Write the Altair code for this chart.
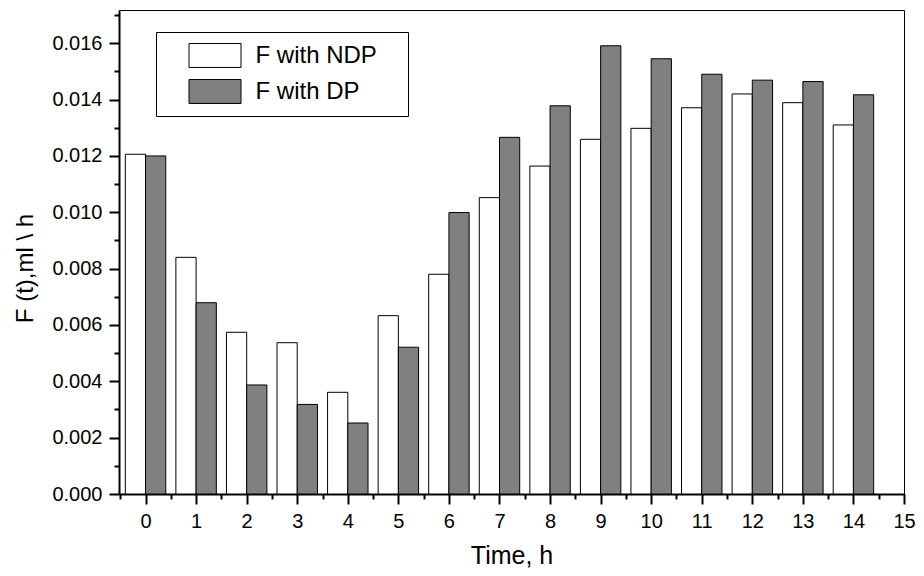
import altair as alt
import pandas as pd

hours = list(range(15))
f_ndp = [0.01206, 0.00840, 0.00574, 0.00537, 0.00361, 0.00633, 0.00780, 0.01052,
         0.01164, 0.01259, 0.01298, 0.01371, 0.01420, 0.01389, 0.01310]
f_dp = [0.01200, 0.00679, 0.00387, 0.00318, 0.00252, 0.00521, 0.00999, 0.01266,
        0.01378, 0.01591, 0.01545, 0.01490, 0.01469, 0.01464, 0.01417]
series = ["F with NDP", "F with DP"]
colors = ["white", "#808080"]
x_ticks = [i / 2 for i in range(-1, 31)]
y_ticks = [round(i * 0.001, 3) for i in range(0, 18)]

rows = []
for h, a, b in zip(hours, f_ndp, f_dp):
    rows.append({"t": h, "series": series[0], "value": a})
    rows.append({"t": h, "series": series[1], "value": b})
df = pd.DataFrame(rows)

FONT = "Liberation Sans"

x_axis = alt.Axis(
    values=x_ticks,
    labelExpr="round(datum.value*2) % 2 == 0 ? format(datum.value, 'd') : ''",
    tickSize={"condition": {"test": "round(datum.value*2) % 2 == 0", "value": 10}, "value": 5},
    labelOverlap=False,
    labelFlush=False,
    labelPadding=7,
    labelFontSize=20,
    title="Time, h",
    titleFontSize=25,
    titleBaseline="alphabetic",
    titleY=69,
)
y_axis = alt.Axis(
    values=y_ticks,
    format=".3f",
    labelExpr="round(datum.value*1000) % 2 == 0 ? datum.label : ''",
    tickSize={"condition": {"test": "round(datum.value*1000) % 2 == 0", "value": 10}, "value": 5},
    labelOverlap=False,
    labelFlush=False,
    labelPadding=7,
    labelFontSize=20,
    title="F (t),ml \\ h",
    titleFontSize=24,
    titleBaseline="alphabetic",
    titleAlign="center",
    titleX=-87,
    titleY=258,
)

legend = alt.Legend(
    orient="none",
    legendX=37,
    legendY=22,
    title=" ",
    titleOrient="right",
    titlePadding=21,
    titleFontSize=4,
    strokeColor="black",
    fillColor="white",
    padding=10,
    symbolType="M-2,-0.92H2V0.92H-2Z",
    symbolSize=676,
    symbolStrokeColor="black",
    symbolStrokeWidth=1,
    symbolOffset=35.5,
    labelOffset=27,
    labelFontSize=24,
    labelFont=FONT,
    labelColor="black",
    rowPadding=7,
    labelLimit=0,
)

chart = (
    alt.Chart(df)
    .transform_calculate(
        x0=f"datum.series == '{series[0]}' ? datum.t - 0.4 : datum.t",
        x1=f"datum.series == '{series[0]}' ? datum.t : datum.t + 0.4",
    )
    .mark_bar(stroke="black", strokeWidth=1)
    .encode(
        x=alt.X("x0:Q", scale=alt.Scale(domain=[-0.525, 15], nice=False, zero=False), axis=x_axis),
        x2="x1:Q",
        y=alt.Y("value:Q", scale=alt.Scale(domain=[0, 0.01718], nice=False), axis=y_axis),
        y2=alt.datum(0),
        fill=alt.Fill("series:N", scale=alt.Scale(domain=series, range=colors), legend=legend),
    )
    .properties(
        width=785,
        height=484,
        padding={"left": 111, "top": 2, "right": 12, "bottom": 74},
        autosize=alt.AutoSizeParams(type="none"),
    )
    .configure_view(stroke="black", strokeWidth=1)
    .configure_axis(
        grid=False,
        domainColor="black",
        domainWidth=2,
        tickColor="black",
        tickWidth=2,
        labelColor="black",
        labelFont=FONT,
        titleFont=FONT,
        titleColor="black",
        titleFontWeight="normal",
    )
)

chart.save("out.html", embed_options={"renderer": "svg", "actions": False})
